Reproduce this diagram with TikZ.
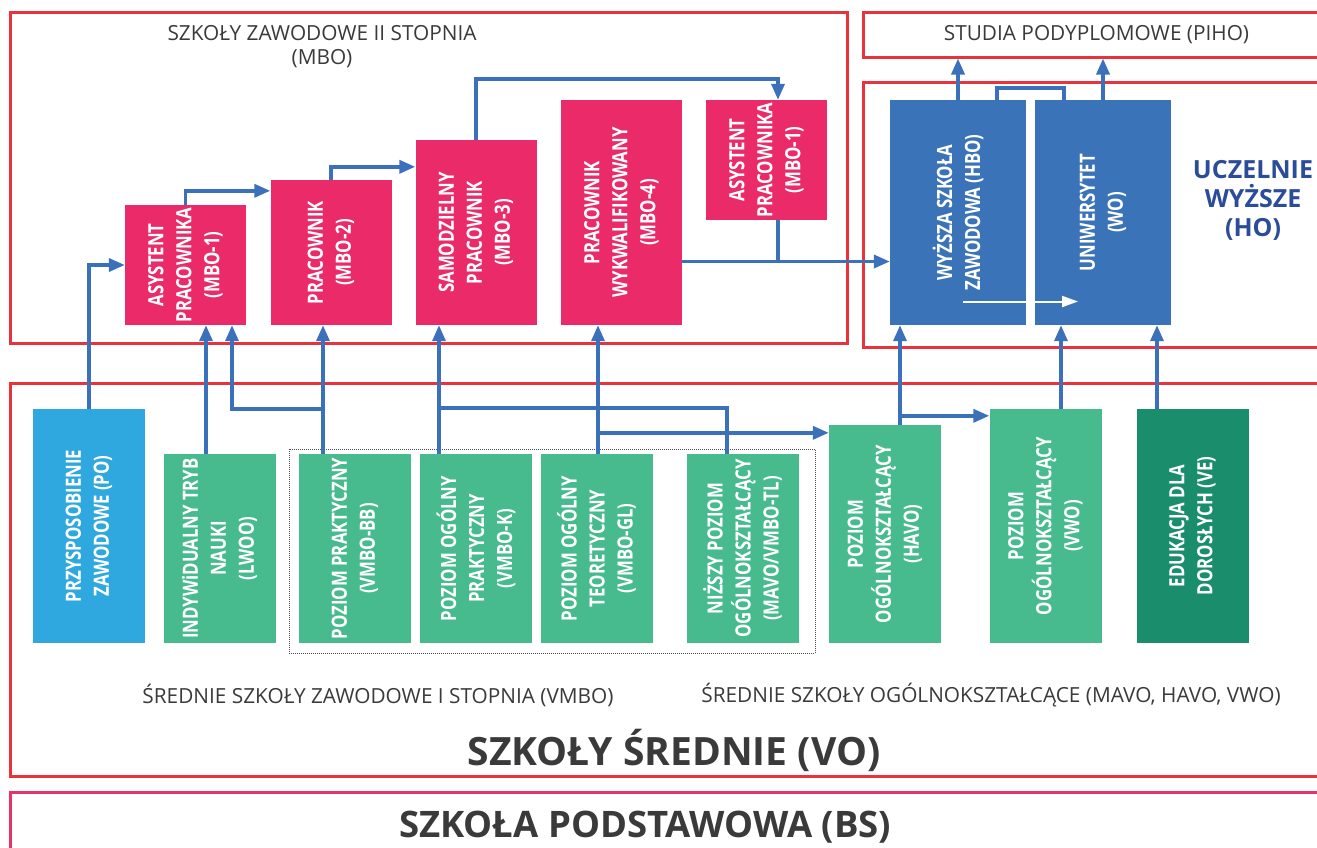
\documentclass[tikz,border=0pt]{standalone}
\usepackage{fontspec}
\setmainfont{Open Sans}
\newfontfamily\boxfont[FakeStretch=0.8]{Open Sans}
\usepackage{tikz}
\usetikzlibrary{arrows.meta, positioning}

\definecolor{framered}{HTML}{E8323C}
\definecolor{bsred}{HTML}{E53468}
\definecolor{mbopink}{HTML}{EA2A69}
\definecolor{hoblue}{HTML}{3B73B9}
\definecolor{linkblue}{HTML}{3B71BA}
\definecolor{poblue}{HTML}{2FA8DF}
\definecolor{vogreen}{HTML}{47BB8E}
\definecolor{vedark}{HTML}{1A8D6D}
\definecolor{hotext}{HTML}{2B4C9B}
\definecolor{greytext}{HTML}{3A3A3A}

\begin{document}
\begin{tikzpicture}[x=1pt,y=-1pt,
    redframe/.style={draw=framered, line width=3pt, inner sep=0pt},
    boxtxt/.style={rotate=90, text=white, align=center, inner sep=0pt,
      font=\boxfont\bfseries\fontsize{21}{28}\selectfont},
    conn/.style={draw=linkblue, line width=3.5pt, -{Triangle[length=16pt,width=13pt]}},
    joint/.style={draw=linkblue, line width=3.5pt}]
  \fill[white] (0,0) rectangle (1317,847);
  \useasboundingbox (0,0) rectangle (1317,847);

  % frames
  \node[redframe, minimum width=837pt, minimum height=331pt] (mbo) at (428.5,177.5) {};
  \node[redframe, minimum width=467pt, minimum height=45pt, text=greytext,
    font=\fontsize{20.8}{24}\selectfont] (piho) at (1096.5,34.5) {STUDIA PODYPLOMOWE (PIHO)};
  \node[redframe, minimum width=467pt, minimum height=265pt] (ho) at (1096.5,214.5) {};
  \node[redframe, minimum width=1320pt, minimum height=393pt] (vo) at (670,579.5) {};
  \node[redframe, draw=bsred, minimum width=1320pt, minimum height=80pt] (bs) at (670,832) {};
  \node[draw=black!70, densely dotted, line width=1pt, inner sep=0pt,
    minimum width=526pt, minimum height=204pt] (vmbo) at (552,551) {};

  % titles
  \begin{scope}[every node/.style={text=greytext, align=center, font=\fontsize{20.8}{24}\selectfont}]
    \node (mbot) at (322,47) {SZKOŁY ZAWODOWE II STOPNIA\\(MBO)};
    \node (vmbot) at (378,695) {ŚREDNIE SZKOŁY ZAWODOWE I STOPNIA (VMBO)};
    \node (avot) at (991,695) {ŚREDNIE SZKOŁY OGÓLNOKSZTAŁCĄCE (MAVO, HAVO, VWO)};
    \node[font=\bfseries\fontsize{39}{42}\selectfont] (vot) at (674,750) {SZKOŁY ŚREDNIE (VO)};
    \node[font=\bfseries\fontsize{36.5}{40}\selectfont] (bst) at (645,827) {SZKOŁA PODSTAWOWA (BS)};
  \end{scope}
  \node[text=hotext, align=center, font=\bfseries\fontsize{25}{29}\selectfont] (hot) at (1253,200) {UCZELNIE\\WYŻSZE\\(HO)};

  % MBO
  \begin{scope}[every node/.style={inner sep=0pt, fill=mbopink, minimum width=121pt}]
    \node[minimum height=120pt] (mbo1) at (185.5,265) {};
    \node[minimum height=145pt] (mbo2) at (331,252.5) {};
    \node[minimum height=185pt] (mbo3) at (476,232.5) {};
    \node[minimum height=225pt] (mbo4) at (621.5,212.5) {};
    \node[minimum height=120pt] (mboa) at (766.5,160) {};
  \end{scope}
  % HO
  \begin{scope}[every node/.style={inner sep=0pt, fill=hoblue, minimum width=136pt, minimum height=225pt}]
    \node (hbo) at (958,212.5) {};
    \node (wo) at (1103,212.5) {};
  \end{scope}
  % VO
  \begin{scope}[every node/.style={inner sep=0pt, fill=vogreen, minimum width=112pt, minimum height=189pt}]
    \node[fill=poblue, minimum height=234pt] (po) at (89,526) {};
    \node (lwoo) at (219.5,548.5) {};
    \node (bb) at (355,548.5) {};
    \node (vk) at (476,548.5) {};
    \node (vgl) at (596.5,548.5) {};
    \node (mavo) at (742.5,548.5) {};
    \node[minimum height=218pt] (havo) at (885,534) {};
    \node[minimum height=234pt] (vwo) at (1045.5,526) {};
    \node[fill=vedark, minimum height=234pt] (ve) at (1192.5,526) {};
  \end{scope}

  \node[boxtxt] (mbo1t) at (mbo1) {ASYSTENT\\PRACOWNIKA\\(MBO-1)};
  \node[boxtxt] (mbo2t) at (mbo2) {PRACOWNIK\\(MBO-2)};
  \node[boxtxt] (mbo3t) at (mbo3) {SAMODZIELNY\\PRACOWNIK\\(MBO-3)};
  \node[boxtxt] (mbo4t) at (mbo4) {PRACOWNIK\\WYKWALIFIKOWANY\\(MBO-4)};
  \node[boxtxt] (mboat) at (mboa) {ASYSTENT\\PRACOWNIKA\\(MBO-1)};
  \node[boxtxt] (hbot) at (hbo) {WYŻSZA SZKOŁA\\ZAWODOWA (HBO)};
  \node[boxtxt] (wot) at (wo) {UNIWERSYTET\\(WO)};
  \node[boxtxt] (pot) at (po) {PRZYSPOSOBIENIE\\ZAWODOWE (PO)};
  \node[boxtxt] (lwoot) at (lwoo) {INDYWiDUALNY TRYB\\NAUKI\\(LWOO)};
  \node[boxtxt] (bbt) at (bb) {POZIOM PRAKTYCZNY\\(VMBO-BB)};
  \node[boxtxt] (vkt) at (vk) {POZIOM OGÓLNY\\PRAKTYCZNY\\(VMBO-K)};
  \node[boxtxt] (vglt) at (vgl) {POZIOM OGÓLNY\\TEORETYCZNY\\(VMBO-GL)};
  \node[boxtxt] (mavot) at (mavo) {NIŻSZY POZIOM\\OGÓLNOKSZTAŁCĄCY\\(MAVO/VMBO-TL)};
  \node[boxtxt] (havot) at (havo) {POZIOM\\OGÓLNOKSZTAŁCĄCY\\(HAVO)};
  \node[boxtxt] (vwot) at (vwo) {POZIOM\\OGÓLNOKSZTAŁCĄCY\\(VWO)};
  \node[boxtxt] (vet) at (ve) {EDUKACJA DLA\\DOROSŁYCH (VE)};

  % connectors in MBO and HO
  \draw[conn] (po.north) |- (mbo1.west);
  \draw[conn] (mbo1.north) |- ([yshift=-11pt]mbo2.north west);
  \draw[conn] (mbo2.north) |- ([yshift=-27pt]mbo3.north west);
  \draw[conn] (mbo3.north) -- ++(0,-61) -| ([xshift=11.5pt]mboa.north);
  \coordinate (mbo4out) at ([yshift=-49pt]mbo4.east);
  \coordinate (mboaout) at ([xshift=11.5pt]mboa.south);
  \draw[conn] (mbo4out) -- (mbo4out -| hbo.west);
  \draw[joint] (mboaout) -- (mboaout |- mbo4out);
  \draw[conn] (hbo.north) -- (hbo.north |- piho.south);
  \draw[conn] (wo.north) -- (wo.north |- piho.south);
  \draw[joint] ([xshift=39pt]hbo.north) -- ++(0,-12) -| ([xshift=-39pt]wo.north);
  \draw[white, line width=2pt, -{Triangle[length=16pt,width=11pt]}]
    ([shift={(5,89)}]hbo.center) -- ([shift={(-25,89)}]wo.center);

  % connectors from VO
  \coordinate (lwooin) at ([xshift=-13.5pt]lwoo.north);
  \draw[conn] (lwooin) -- (lwooin |- mbo1.south);
  \coordinate (bbin) at ([xshift=-32pt]bb.north);
  \draw[conn] (bbin) -- (bbin |- mbo2.south);
  \draw[conn] (bbin) ++(0,-45) -| ([xshift=46.5pt]mbo1.south);
  \coordinate (vkin) at ([xshift=-37pt]vk.north);
  \draw[conn] (vkin) -- (vkin |- mbo3.south);
  \draw[joint] (vkin) ++(0,-46) -| ([xshift=-15.5pt]mavo.north);
  \coordinate (vglin) at ([xshift=1.5pt]vgl.north);
  \draw[conn] (vglin) -- (vglin |- mbo4.south);
  \coordinate (havoin) at ([yshift=-8pt]havo.north west);
  \draw[conn] (vglin |- havoin) -- (havoin);
  \coordinate (havoup) at ([xshift=15pt]havo.north);
  \draw[conn] (havoup) -- (havoup |- hbo.south);
  \coordinate (vwoin) at ([yshift=-7pt]vwo.north west);
  \draw[conn] (havoup |- vwoin) -- (vwoin);
  \coordinate (vwoup) at ([xshift=15.5pt]vwo.north);
  \draw[conn] (vwoup) -- (vwoup |- wo.south);
  \coordinate (veup) at ([xshift=-35.5pt]ve.north);
  \draw[conn] (veup) -- (veup |- wo.south);
\end{tikzpicture}
\end{document}
